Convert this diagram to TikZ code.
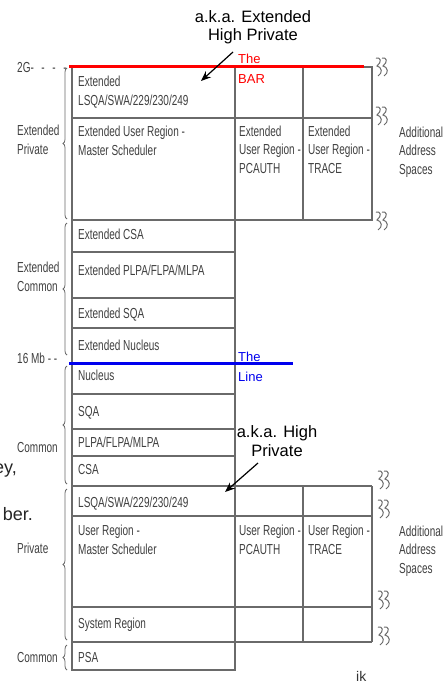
\documentclass[tikz,border=0pt]{standalone}
\usepackage{fontspec}
\setmainfont{Liberation Sans}
\newfontfamily\nar[FakeStretch=0.69]{Liberation Sans}
\usetikzlibrary{arrows.meta,decorations.pathreplacing}
\definecolor{ln}{HTML}{6A6A6A}
\definecolor{tx}{HTML}{404040}
\definecolor{barred}{HTML}{FF0000}
\definecolor{lineblue}{HTML}{0000EE}
\begin{document}
\begin{tikzpicture}[x=1pt,y=-1pt,
  grid/.style={draw=ln,line width=1.3pt},
  cell/.style={anchor=base west,inner sep=0pt,align=left,text=tx,
    font=\nar\fontsize{14.5}{18.5}\selectfont},
  side/.style={cell},
  note/.style={anchor=base,inner sep=0pt,align=center,text=black,
    font=\fontsize{16.5}{18.5}\selectfont},
  markt/.style={anchor=base west,inner sep=0pt,align=left,
    font=\fontsize{13}{19.5}\selectfont},
  brc/.style={draw=ln,line width=0.8pt,decorate,
    decoration={brace,amplitude=4pt,mirror}},
  ptr/.style={draw=black,line width=1.2pt,-{Stealth[length=10pt,width=8pt]}},
  brk/.pic={
    \draw[ln,line width=1pt] (0,-9) .. controls (5,-10) and (6,-5) .. (1,-1)
        .. controls (6,0) and (7,6) .. (2,9);
    \draw[ln,line width=1pt] (6,-9) .. controls (11,-10) and (12,-5) .. (7,-1)
        .. controls (12,0) and (13,6) .. (8,9);}
]
\useasboundingbox (0,0) rectangle (444,685);
\fill[white] (0,0) rectangle (444,685);

% ---- table lines
\draw[grid] (72,67) rectangle (235,670);
\draw[grid] (235,67) -- (372,67) -- (372,220) -- (72,220);
\draw[grid] (303,67) -- (303,220);
\draw[grid] (72,118) -- (372,118);
\foreach \yy in {252,298,328,394,429,456}
  \draw[grid] (72,\yy) -- (235,\yy);
\foreach \yy in {486,516,607,642}
  \draw[grid] (72,\yy) -- (372,\yy);
\draw[grid] (303,486) -- (303,642);
\draw[grid] (372,486) -- (372,642);

% ---- the bar and the line
\draw[barred,line width=3pt] (69,67) -- (364,67);
\draw[lineblue,line width=3pt] (69,363) -- (293,363);

% ---- break marks
\pic (z1) at (376,67) {brk};
\pic (z2) at (376,116) {brk};
\pic (z3) at (376,221) {brk};
\pic (z4) at (378,480) {brk};
\pic (z5) at (378,509) {brk};
\pic (z6) at (378,600) {brk};
\pic (z7) at (378,636) {brk};

% ---- cell texts (base = baseline of last line)
\node[cell] (c1) at (78,105) {Extended\\LSQA/SWA/229/230/249};
\node[cell] (c2) at (78,155) {Extended User Region -\\Master Scheduler};
\node[cell] (c3) at (239,173) {Extended\\User Region -\\PCAUTH};
\node[cell] (c4) at (308,173) {Extended\\User Region -\\TRACE};
\node[cell] (c5) at (78,239) {Extended CSA};
\node[cell] (c6) at (78,275) {Extended PLPA/FLPA/MLPA};
\node[cell] (c7) at (78,318) {Extended SQA};
\node[cell] (c8) at (78,350) {Extended Nucleus};
\node[cell] (c9) at (78,380) {Nucleus};
\node[cell] (c10) at (78,416) {SQA};
\node[cell] (c11) at (78,447) {PLPA/FLPA/MLPA};
\node[cell] (c12) at (78,474) {CSA};
\node[cell] (c13) at (78,507) {LSQA/SWA/229/230/249};
\node[cell] (c14) at (78,554) {User Region -\\Master Scheduler};
\node[cell] (c15) at (239,554) {User Region -\\PCAUTH};
\node[cell] (c16) at (308,554) {User Region -\\TRACE};
\node[cell] (c17) at (78,628) {System Region};
\node[cell] (c18) at (78,662) {PSA};

% ---- side labels
\node[side] (s1) at (17,72) {2G-\,\, -\,\, -\,\, -};
\node[side] (s2) at (17,154) {Extended\\Private};
\node[side] (s3) at (17,291) {Extended\\Common};
\node[side] (s4) at (17,363) {16 Mb - -};
\node[side] (s5) at (17,452) {Common};
\node[side] (s6) at (17,553) {Private};
\node[side] (s7) at (17,662) {Common};
\node[side] (s8) at (399,174) {Additional\\Address\\Spaces};
\node[side] (s9) at (399,573) {Additional\\Address\\Spaces};

% ---- braces
\draw[brc] (67,68) -- (67,219);
\draw[brc] (67,223) -- (67,355);
\draw[brc] (67,366) -- (67,484);
\draw[brc] (67,489) -- (67,640);
\draw[brc] (67,645) -- (67,670);

% ---- annotations
\node[note] (n1) at (253,41) {a.k.a. Extended\\High Private};
\coordinate (p1s) at (233,52);
\coordinate (p1e) at (201,81);
\draw[ptr] (p1s) -- (p1e);
\node[markt,text=barred] (bar) at (238,83) {The\\BAR};
\node[markt,text=lineblue] (lin) at (238,381) {The\\Line};
\node[note] (n2) at (277,456) {a.k.a. High\\Private};
\coordinate (p2s) at (258,463);
\coordinate (p2e) at (225,492);
\draw[ptr] (p2s) -- (p2e);

% ---- stray slide text
\node[anchor=base east,inner sep=0pt,text=black!85,font=\fontsize{18}{20}\selectfont] (f1) at (17,473) {ey,};
\node[anchor=base east,inner sep=0pt,text=black!85,font=\fontsize{18}{20}\selectfont] (f2) at (33,520) {ber.};
\node[anchor=base west,inner sep=0pt,text=black!80,font=\fontsize{14}{16}\selectfont] (f3) at (356,681) {ik};
\end{tikzpicture}
\end{document}
